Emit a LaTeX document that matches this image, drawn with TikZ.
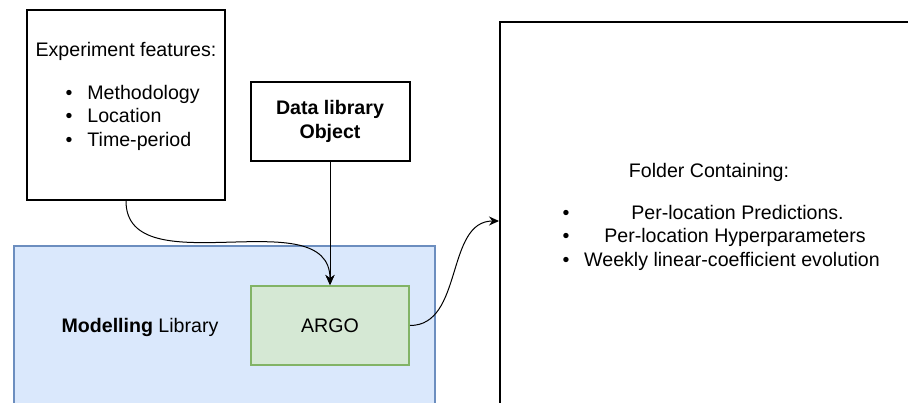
\documentclass[tikz,border=0pt]{standalone}
\usepackage{fontspec}
\setmainfont{Liberation Sans}
\usetikzlibrary{arrows.meta}
\definecolor{modfill}{HTML}{DAE8FC}
\definecolor{moddraw}{HTML}{6C8EBF}
\definecolor{argofill}{HTML}{D5E8D4}
\definecolor{argodraw}{HTML}{82B366}
\tikzset{every picture/.append style={font=\fontsize{9.8}{11.75}\selectfont}}

\begin{document}
\begin{tikzpicture}[x=0.5pt, y=-0.5pt,
	box/.style={draw, line width=1pt, inner sep=0pt},
	txt/.style={inner sep=0pt, anchor=base},
	item/.style={inner sep=0pt, anchor=base west},
	conn/.style={line width=0.5pt, -{Stealth[length=5pt, width=4.5pt]}}]
	\clip (0,0) rectangle (908,402);
	% boxes
	\node[box, draw=moddraw, fill=modfill, minimum width=210.5pt, minimum height=87pt] (modLib) at (224.5,333) {};
	\node[box, draw=argodraw, fill=argofill, minimum width=79pt, minimum height=39.5pt] (argo) at (330,325.5) {ARGO};
	\node[box, minimum width=99pt, minimum height=95pt] (exp) at (126,105) {};
	\node[box, minimum width=79.5pt, minimum height=39.5pt, align=center, font=\fontsize{9.8}{11.75}\selectfont\bfseries] (data) at (330,121.5) {Data library\\Object};
	\node[box, minimum width=215pt, minimum height=199pt] (folder) at (715,221) {};
	% texts
	\node[txt] (expTitle) at (126,56) {Experiment features:};
	\node[txt] (expDotA) at (69,99) {\textbullet};
	\node[txt] (expDotB) at (69,122.5) {\textbullet};
	\node[txt] (expDotC) at (69,146) {\textbullet};
	\node[item] (expItemA) at (87,99) {Methodology};
	\node[item] (expItemB) at (87,122.5) {Location};
	\node[item] (expItemC) at (87,146) {Time-period};
	\node[txt] (modTitle) at (140,332) {\textbf{Modelling} Library};
	\node[txt] (folderTitle) at (709,177) {Folder Containing:};
	\node[txt] (folderDotA) at (566,219) {\textbullet};
	\node[txt] (folderDotB) at (566,242.5) {\textbullet};
	\node[txt] (folderDotC) at (566,266) {\textbullet};
	\node[txt] (folderItemA) at (737.5,219) {Per-location Predictions.};
	\node[txt] (folderItemB) at (735,242.5) {Per-location Hyperparameters};
	\node[txt] (folderItemC) at (732,266) {Weekly linear-coefficient evolution};
	% connectors
	\draw[conn] (exp.south) to[out=-90, in=90] (argo.north);
	\draw[conn] (data.south) -- (argo.north);
	\draw[conn] (argo.east) to[out=0, in=180] (folder.west);
\end{tikzpicture}
\end{document}
